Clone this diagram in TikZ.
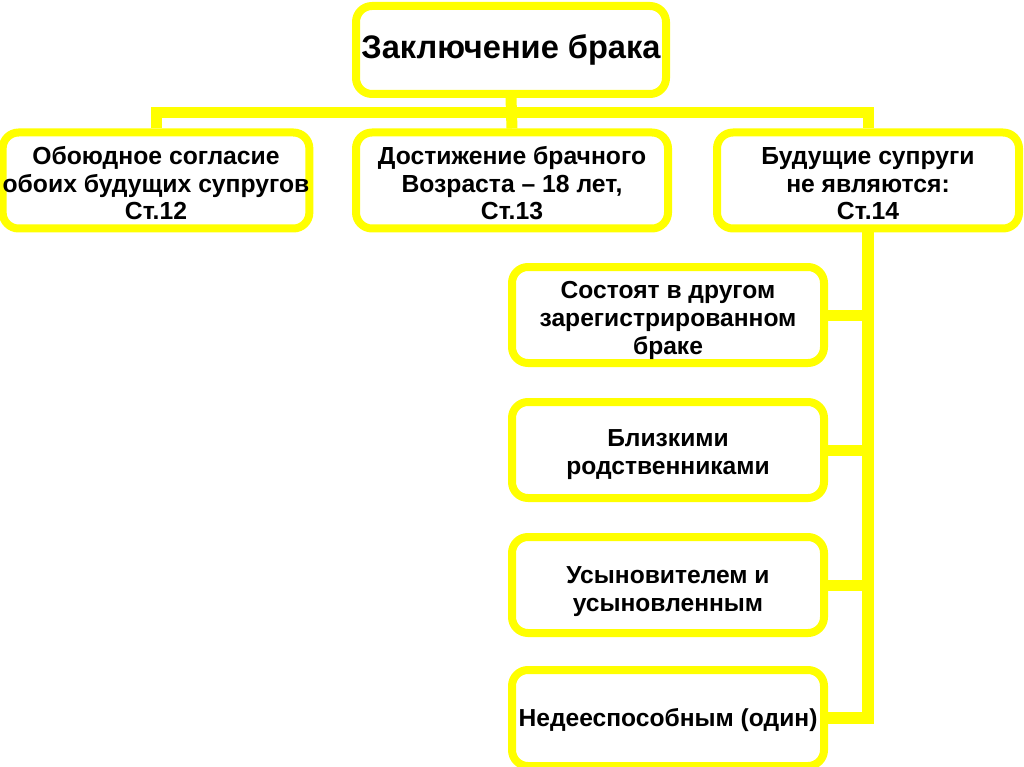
\documentclass[tikz,border=0pt]{standalone}
\usepackage{fontspec}
\setmainfont{Liberation Sans}
\definecolor{ylw}{RGB}{255,255,0}
\newcommand{\pushdown}[1]{\rule{0pt}{#1pt}}
\begin{document}
\begin{tikzpicture}[x=1pt,y=-1pt,
  box/.style={draw=ylw, line width=8pt, rounded corners=16pt, fill=white, align=center,
    font=\bfseries\fontsize{24.6}{28}\selectfont, inner sep=0pt, minimum height=96pt, text=black},
  rowbox/.style={box, font=\bfseries\fontsize{24.7}{27.5}\selectfont},
  link/.style={draw=ylw, line width=11pt, line join=miter}]
\useasboundingbox (0,0) rectangle (1024,767);
\node[box, minimum width=310pt, minimum height=88pt, font=\bfseries\fontsize{32.6}{38}\selectfont] (top) at (511,50) {Заключение брака};
\node[rowbox, minimum width=304pt] (b1) at (156,180.5) {\pushdown{24}Обоюдное согласие\\обоих будущих супругов\\Ст.12};
\node[rowbox, minimum width=312pt] (b2) at (512,180.5) {\pushdown{24}Достижение брачного\\Возраста – 18 лет,\\Ст.13};
\node[rowbox, minimum width=302pt] (b3) at (868,180.5) {\pushdown{24}Будущие супруги\\не являются:\\Ст.14};
\node[box, minimum width=312pt] (s1) at (668,315) {\pushdown{28}Состоят в другом\\зарегистрированном\\браке};
\node[box, minimum width=312pt] (s2) at (668,450) {\pushdown{26}Близкими\\родственниками};
\node[box, minimum width=312pt] (s3) at (668,585) {\pushdown{30}Усыновителем и\\усыновленным};
\node[box, minimum width=312pt] (s4) at (668,718) {\pushdown{22}Недееспособным (один)};
\coordinate (bar) at (511,113);
\draw[link] (b1.north) -- (b1.north |- bar) -| (b3.north);
\draw[link] (top.south) -- (b2.north);
\draw[link, line width=12pt] (b3.south) -- (b3.south |- s4.east) -- (s4.east);
\draw[link] (s1.east) -- (s1.east -| b3.south);
\draw[link] (s2.east) -- (s2.east -| b3.south);
\draw[link] (s3.east) -- (s3.east -| b3.south);
\end{tikzpicture}
\end{document}
